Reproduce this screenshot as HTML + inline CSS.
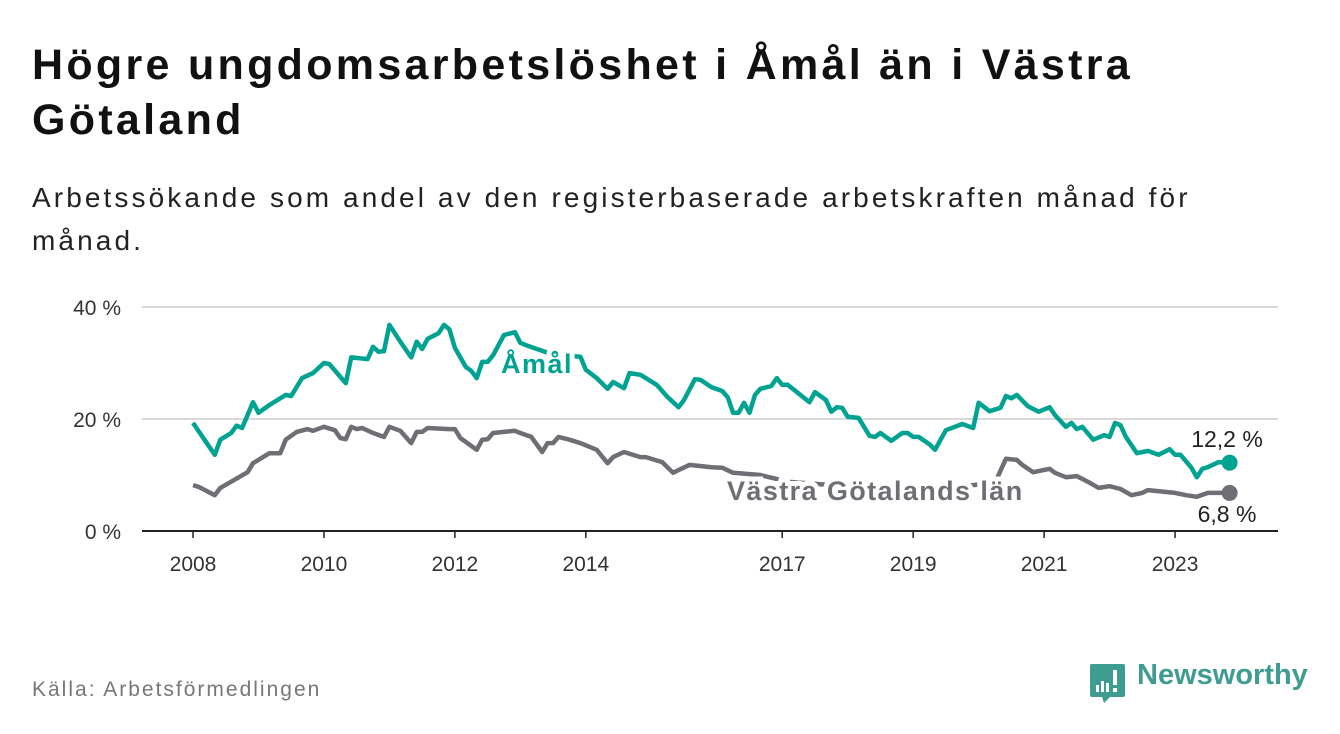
<!DOCTYPE html>
<html><head><meta charset="utf-8"><style>
body{margin:0;background:#fff;width:1340px;height:734px;overflow:hidden;font-family:"Liberation Sans",sans-serif;}
#title{position:absolute;left:32px;top:38px;font-size:43px;letter-spacing:3.3px;font-weight:bold;line-height:55px;color:#111;margin:0;width:1180px;}
#sub{position:absolute;left:32px;top:176px;font-size:28px;letter-spacing:3.1px;line-height:43px;color:#222;margin:0;width:1230px;}
#src{position:absolute;left:32px;top:678px;font-size:21px;letter-spacing:2px;color:#777;}
#logo{position:absolute;left:1137px;top:659px;font-size:29px;font-weight:bold;color:#3f9c91;}
svg{position:absolute;left:0;top:0;}
</style></head><body>
<h1 id="title">Högre ungdomsarbetslöshet i Åmål än i Västra Götaland</h1>
<p id="sub">Arbetssökande som andel av den registerbaserade arbetskraften månad för månad.</p>
<div id="src">Källa: Arbetsförmedlingen</div>
<svg id="chart" width="1340" height="734"></svg>
<div id="logo">Newsworthy</div>
<script>
const yTicks=[0,20,40];
const yTickLabels=["0 %","20 %","40 %"];
const xTickYears=[2008,2010,2012,2014,2017,2019,2021,2023];
const amalMonths=[0,4,5,7,8,9,11,12,14,16,17,18,20,22,24,25,28,29,32,33,34,35,36,38,40,41,42,43,45,46,47,48,50,51,52,53,54,55,57,59,60,61,66,71,72,74,76,77,79,80,82,85,87,89,90,92,93,95,97,98,99,100,101,102,103,104,106,107,108,109,113,114,116,117,118,119,120,122,124,125,126,128,130,131,132,133,135,136,138,141,143,144,146,148,149,150,151,153,155,157,158,160,161,162,163,165,167,168,169,170,171,173,175,177,179,180,181,183,184,185,186,188,190];
const amalValues=[19.3,13.6,16.3,17.5,18.8,18.4,23.0,21.1,22.5,23.7,24.3,24.1,27.3,28.2,30.0,29.8,26.4,31.0,30.7,32.9,32.0,32.1,36.8,33.8,31.0,33.8,32.5,34.3,35.3,36.8,36.0,32.7,29.3,28.6,27.3,30.2,30.2,31.4,35.0,35.5,33.6,33.2,31.5,31.1,28.8,27.3,25.4,26.6,25.5,28.2,27.9,26.1,23.9,22.1,23.4,27.1,27.0,25.7,25.0,23.9,21.1,21.1,22.9,21.1,24.3,25.4,25.9,27.3,26.1,26.1,23.0,24.8,23.4,21.3,22.1,22.0,20.4,20.2,17.0,16.8,17.5,16.1,17.5,17.5,16.8,16.8,15.5,14.5,18.0,19.1,18.4,22.9,21.4,22.0,24.1,23.7,24.3,22.3,21.3,22.1,20.7,18.6,19.3,18.2,18.6,16.3,17.1,16.8,19.3,18.9,16.8,13.9,14.3,13.6,14.6,13.6,13.6,11.3,9.6,11.1,11.4,12.3,12.2];
const vgMonths=[0,1,4,5,7,10,11,14,16,17,19,21,22,24,26,27,28,29,30,31,33,35,36,38,40,41,42,43,47,48,49,52,53,54,55,57,59,60,62,64,65,66,67,69,71,74,76,77,79,82,83,86,88,89,91,95,97,99,104,109,117,124,133,141,147,149,151,152,154,157,158,160,162,164,166,168,170,172,174,175,178,180,182,184,186,190];
const vgValues=[8.2,7.9,6.4,7.7,8.8,10.5,12.1,13.9,13.9,16.3,17.7,18.2,17.9,18.6,18.0,16.6,16.4,18.6,18.2,18.4,17.5,16.8,18.6,17.9,15.7,17.7,17.7,18.4,18.2,18.2,16.6,14.5,16.3,16.4,17.5,17.7,17.9,17.5,16.8,14.1,15.7,15.7,16.8,16.3,15.7,14.5,12.1,13.2,14.1,13.2,13.2,12.3,10.4,10.9,11.8,11.4,11.3,10.4,10.0,8.8,8.2,8.0,7.8,8.0,8.6,12.9,12.7,11.8,10.5,11.1,10.4,9.6,9.8,8.8,7.7,8.0,7.5,6.4,6.8,7.3,7.0,6.8,6.4,6.1,6.8,6.8];

const NS="http://www.w3.org/2000/svg";
const svg=document.getElementById('chart');
const X0=193, PX_YEAR=65.47;
function xMonth(m){return X0+m*PX_YEAR/12;}
function xYear(y){return X0+(y-2008)*PX_YEAR;}
function yVal(v){return 531-v*5.6;}
function mk(tag,attrs,parent){const e=document.createElementNS(NS,tag);for(const k in attrs)e.setAttribute(k,attrs[k]);(parent||svg).appendChild(e);return e;}

yTicks.forEach((t,i)=>{
  if(t>0){const g=mk('line',{x1:142,x2:1278,y1:yVal(t),y2:yVal(t),stroke:'#d9d9d9','stroke-width':2});
  
  }
  const tx=mk('text',{x:121,y:yVal(t)+8,'text-anchor':'end','font-size':21,fill:'#333','font-family':'Liberation Sans, sans-serif'});
  tx.textContent=yTickLabels[i];
  
  
});
const ax=mk('line',{x1:142,x2:1278,y1:531,y2:531,stroke:'#222','stroke-width':2});


xTickYears.forEach(y=>{
  const tk=mk('line',{x1:xYear(y),x2:xYear(y),y1:531,y2:538,stroke:'#222','stroke-width':1.5});
  
  
  const tx=mk('text',{x:xYear(y),y:571,'text-anchor':'middle','font-size':21,fill:'#333','font-family':'Liberation Sans, sans-serif'});
  tx.textContent=y;
  
  
});
function series(months,vals,color,name){
  const d=months.map((m,i)=>(i?'L':'M')+xMonth(m).toFixed(1)+','+yVal(vals[i]).toFixed(1)).join('');
  const p=mk('path',{d:d,fill:'none',stroke:color,'stroke-width':4.5,'stroke-linejoin':'round'});
  
  
  const n=months.length-1;
  const c=mk('circle',{cx:xMonth(months[n]),cy:yVal(vals[n]),r:8,fill:color});
  
  
}
series(vgMonths,vgValues,'#6f6e74','vastra-gotaland');
series(amalMonths,amalValues,'#00a392','amal');
function label(txt,x,y,size,color,bold,anchor,name,ls){
  const t=mk('text',{x:x,y:y,'font-size':size,fill:color,'font-weight':bold?'bold':'normal','text-anchor':anchor||'start',stroke:'#fff','stroke-width':10,'paint-order':'stroke','letter-spacing':ls||0,'font-family':'Liberation Sans, sans-serif'});
  t.textContent=txt;
  
  
}
label('Åmål',501,373,27,'#00a392',true,'start','amal-series-label',1.5);
label('Västra Götalands län',727,500,27,'#6f6e74',true,'start','vastra-gotaland-series-label',1.4);
label('12,2 %',1227,447,23,'#222',false,'middle','amal-end-value');
label('6,8 %',1227,522,23,'#222',false,'middle','vastra-gotaland-end-value');
const g=mk('g',{});


mk('path',{d:'M1092,664 H1123 Q1125,664 1125,666 V695 Q1125,697 1123,697 H1110 L1104,703 L1102,697 H1092 Q1090,697 1090,695 V666 Q1090,664 1092,664 Z',fill:'#3f9c91'},g);
mk('rect',{x:1096,y:685,width:3,height:7,fill:'#fff'},g);
mk('rect',{x:1101,y:681,width:3,height:11,fill:'#fff'},g);
mk('rect',{x:1106,y:683,width:3,height:9,fill:'#fff'},g);
mk('rect',{x:1113,y:670,width:4,height:15,fill:'#fff'},g);
mk('rect',{x:1113,y:688,width:4,height:4,fill:'#fff'},g);
</script>
</body></html>
